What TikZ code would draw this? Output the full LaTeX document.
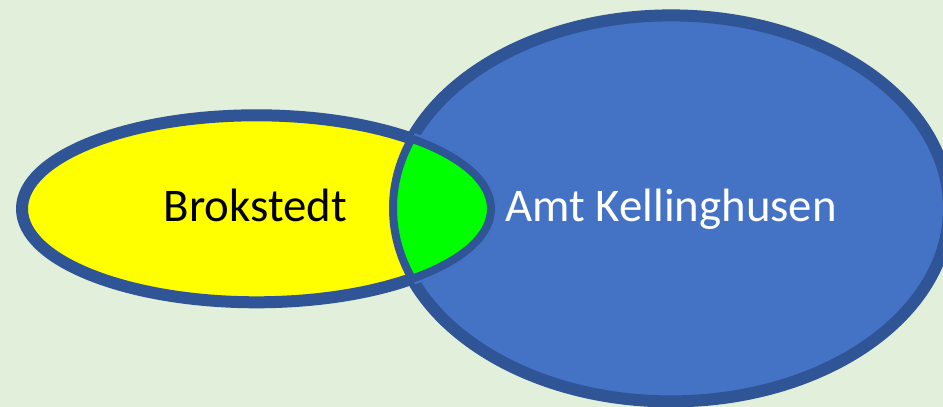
\documentclass[tikz,border=0pt]{standalone}
\usepackage{fontspec}
\setmainfont{Carlito}
\definecolor{bgcol}{HTML}{E2EFDA}
\definecolor{bluefill}{HTML}{4472C4}
\definecolor{rimcol}{HTML}{2F5597}
\definecolor{yellowfill}{HTML}{FFFF00}
\definecolor{greenfill}{HTML}{00FF00}
\tikzset{
  thickrim/.style={draw=rimcol, line width=12pt},
  thinrim/.style={draw=rimcol, line width=8pt},
  label/.style={inner sep=0pt, anchor=base, font=\fontsize{46.8}{50}\selectfont}
}
\def\blueellipse{(671,208.4) ellipse [x radius=278, y radius=193]}
\def\yellowellipse{(256.5,208.8) ellipse [x radius=234.5, y radius=93.5]}
\begin{document}
\begin{tikzpicture}[x=1pt,y=-1pt]
\useasboundingbox (0,0) rectangle (943,407);
\fill[bgcol] (0,0) rectangle (943,407);
% Amt Kellinghusen
\filldraw[fill=bluefill, thickrim] \blueellipse;
% Brokstedt
\filldraw[fill=yellowfill, thickrim] \yellowellipse;
% overlap
\begin{scope}
  \clip \blueellipse;
  \draw[bluefill, line width=12.5pt] \yellowellipse;
  \fill[greenfill] \yellowellipse;
  \draw[thinrim] \yellowellipse;
\end{scope}
\begin{scope}
  \clip \yellowellipse;
  \draw[thinrim] \blueellipse;
\end{scope}
\node[label, text=black] (brok) at (255.3,221.7) {Brokstedt};
\node[label, text=white] (amt) at (671.2,221.7) {Amt Kellinghusen};
\end{tikzpicture}
\end{document}
